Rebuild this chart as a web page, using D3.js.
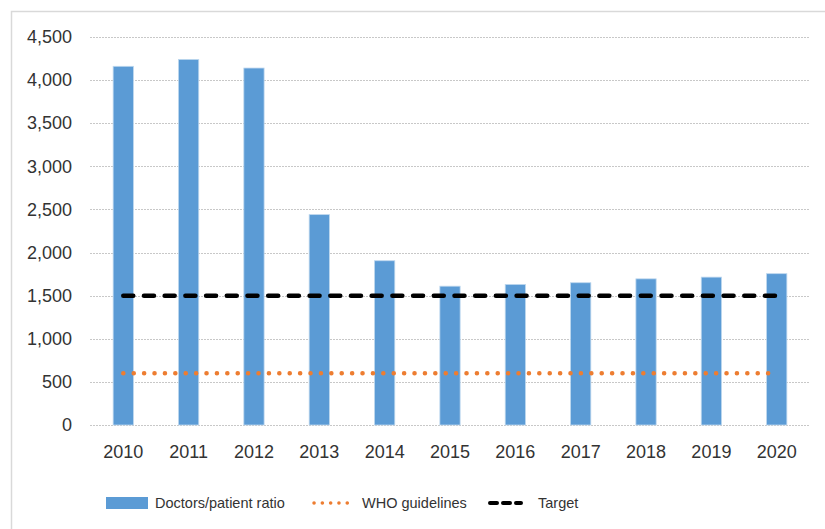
<!DOCTYPE html>
<html>
<head>
<meta charset="utf-8">
<script src="https://cdn.jsdelivr.net/npm/d3@7"></script>
<style>
  body { margin: 0; background: #fff; }
  text { font-family: "Liberation Sans", Arial, sans-serif; fill: #333; }
</style>
</head>
<body>
<div id="chart"></div>
<script>
// data
var years = ["2010", "2011", "2012", "2013", "2014", "2015", "2016", "2017", "2018", "2019", "2020"];
var ratio = [4160, 4240, 4140, 2440, 1905, 1610, 1630, 1650, 1695, 1715, 1755];
var who = [600, 600, 600, 600, 600, 600, 600, 600, 600, 600, 600];
var target = [1500, 1500, 1500, 1500, 1500, 1500, 1500, 1500, 1500, 1500, 1500];
var yTicks = [0, 500, 1000, 1500, 2000, 2500, 3000, 3500, 4000, 4500];

var width = 825, height = 529;
var svg = d3.select("#chart").append("svg")
  .attr("width", width)
  .attr("height", height);

// chart frame
svg.append("rect")
  .attr("x", 11.5).attr("y", 11.5)
  .attr("width", 830).attr("height", 540)
  .attr("fill", "none")
  .attr("stroke", "#d9d9d9")
  .attr("stroke-width", 1.5);

var x = d3.scaleBand().domain(years).range([90.6, 809.4]).paddingInner(0.69).paddingOuter(0.345);
var y = d3.scaleLinear().domain([0, 4500]).range([425, 37]);

// gridlines
svg.append("g")
  .selectAll("line")
  .data(yTicks)
  .enter()
  .append("line")
  .attr("x1", 90).attr("x2", 810)
  .attr("y1", function (d) { return Math.round(y(d)) + 0.5; })
  .attr("y2", function (d) { return Math.round(y(d)) + 0.5; })
  .attr("stroke", "#c8c8c8")
  .attr("stroke-dasharray", "2,1");

// y axis labels
var yAxis = d3.axisLeft(y).tickValues(yTicks).tickSize(0).tickPadding(0)
  .tickFormat(d3.format(","));
var gy = svg.append("g").attr("transform", "translate(72,0)").call(yAxis);
gy.select(".domain").remove();
gy.selectAll("text")
  .style("font-size", "18px")
  .style("font-family", "\"Liberation Sans\", Arial, sans-serif")
  .attr("fill", "#333");

// x axis labels
var xAxis = d3.axisBottom(x).tickSize(0).tickPadding(0);
var gx = svg.append("g").attr("transform", "translate(0,445)").call(xAxis);
gx.select(".domain").remove();
gx.selectAll("text")
  .style("font-size", "18px")
  .style("font-family", "\"Liberation Sans\", Arial, sans-serif")
  .attr("fill", "#333");

// bars
svg.append("g")
  .selectAll("rect")
  .data(ratio)
  .enter()
  .append("rect")
  .attr("x", function (d, i) { return x(years[i]); })
  .attr("y", function (d) { return y(d); })
  .attr("width", x.bandwidth())
  .attr("height", function (d) { return y(0) - y(d); })
  .attr("fill", "#5b9bd5")
  .attr("stroke", "#bdd7ee")
  .attr("stroke-width", 0.8);

var line = d3.line()
  .x(function (d, i) { return x(years[i]) + x.bandwidth() / 2; })
  .y(function (d) { return y(d); });

// WHO guidelines (dotted)
svg.append("path")
  .datum(who)
  .attr("d", line)
  .attr("fill", "none")
  .attr("stroke", "#ed7d31")
  .attr("stroke-width", 4.5)
  .attr("stroke-linecap", "round")
  .attr("stroke-dasharray", "0.1,10.3");

// Target (dashed)
svg.append("path")
  .datum(target)
  .attr("d", line)
  .attr("fill", "none")
  .attr("stroke", "#000")
  .attr("stroke-width", 4.5)
  .attr("stroke-linecap", "round")
  .attr("stroke-dasharray", "10,10.7");

// legend
var leg = svg.append("g");
leg.append("rect")
  .attr("x", 106).attr("y", 497)
  .attr("width", 42).attr("height", 12)
  .attr("fill", "#5b9bd5");
leg.append("text")
  .attr("x", 155).attr("y", 503).attr("dy", "0.35em")
  .style("font-size", "14.5px")
  .text("Doctors/patient ratio");

leg.append("line")
  .attr("x1", 314).attr("x2", 355)
  .attr("y1", 503).attr("y2", 503)
  .attr("stroke", "#ed7d31")
  .attr("stroke-width", 3.5)
  .attr("stroke-linecap", "round")
  .attr("stroke-dasharray", "0.1,8.2");
leg.append("text")
  .attr("x", 362).attr("y", 503).attr("dy", "0.35em")
  .style("font-size", "14.5px")
  .text("WHO guidelines");

leg.append("line")
  .attr("x1", 490).attr("x2", 521)
  .attr("y1", 503).attr("y2", 503)
  .attr("stroke", "#000")
  .attr("stroke-width", 4)
  .attr("stroke-linecap", "round")
  .attr("stroke-dasharray", "7,6");
leg.append("text")
  .attr("x", 538).attr("y", 503).attr("dy", "0.35em")
  .style("font-size", "14.5px")
  .text("Target");
</script>
</body>
</html>
